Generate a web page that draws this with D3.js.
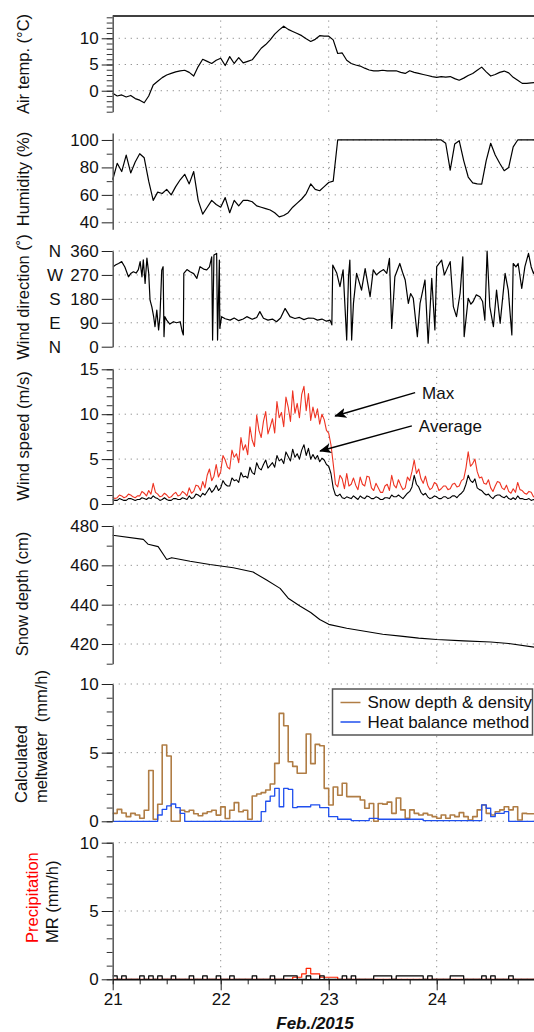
<!DOCTYPE html>
<html>
<head>
<meta charset="utf-8">
<style>
  body { margin: 0; background: #fff; }
  text { font-family: "Liberation Sans", Arial, Helvetica, sans-serif; fill: #111; }
</style>
</head>
<body>
<svg width="534" height="1032"></svg>
<script src="https://d3js.org/d3.v7.min.js"></script>
<script>

// ---- data (series start 21 Feb 2015 00:00) ----
var dayTicks = [21, 22, 23, 24];

// hourly
var airTemp = [-0.5,-1.0,-0.8,-1.2,-0.9,-1.5,-1.8,-2.3,-1.0,1.1, 1.8,2.5,3.0,3.3,3.6,3.8,3.9,3.5,2.8,4.6,
  6.0,5.6,5.2,5.8,6.2,4.8,6.5,5.2,6.3,5.3, 5.6,5.9,7.0,8.1,8.8,9.7,10.8,11.6,12.3,11.7,
  11.3,10.9,10.5,9.9,9.4,9.8,10.5,10.4,10.4,9.7, 7.1,7.2,5.8,5.2,4.9,4.7,4.3,3.95,3.8,3.8,
  3.9,3.8,3.8,3.8,3.5,3.3,3.8,3.5,3.3,3.1, 2.9,2.7,2.55,2.7,2.6,2.7,2.3,2.0,2.4,2.9,
  3.3,3.9,4.5,3.6,2.8,3.1,3.5,3.75,3.4,2.55, 2.0,1.4,1.4,1.5,1.6];

// hourly
var humidity = [71,83,77,89,76,84,90,87,70,56, 62,61,64,60,66,71,75,68,77,56,
  46,51,56,53,51,58,47,56,52,56, 56,55,52,51,50,49,47,44,45,47,
  51,54,57,61,68,64,63,66,69,70, 100,100,100,100,100,100,100,100,100,100,
  100,100,100,100,100,100,100,100,100,100, 100,100,100,100,97.6,78,97,99.5,85,73,
  68.8,68,67.8,85,97.6,89,83,77.6,80,95, 100,100,100,100,100];

// irregular samples (hours since start)
var dirHour = [0.1,0.7,1.3,2.0,2.7,3.5,4.0,4.6,5.2,5.7,6.1,6.5,6.8,7.2,7.6,8.0,8.3,8.7,9.1,9.4,
  9.8,10.2,10.5,10.9,11.2,11.4,11.6,12.0,12.7,13.5,14.2,15.0,15.4,15.7,15.8,16.5,17.2,18.0,18.7,19.4,
  20.2,20.9,21.5,22.0,22.2,22.5,23.1,23.3,23.7,23.8,24.2,25.0,26.1,27.0,28.0,29.0,29.8,31.0,32.0,32.7,
  33.5,34.5,35.5,36.4,37.3,38.3,39.4,40.5,41.5,42.5,43.5,44.6,45.5,46.5,47.5,48.3,48.7,48.9,49.8,50.5,
  51.2,52.0,52.4,52.7,53.1,53.5,54.2,55.3,56.1,57.2,57.9,58.6,59.4,60.2,60.9,61.5,62.0,62.7,63.8,64.4,
  65.0,65.7,66.2,66.8,67.7,68.3,69.4,70.1,70.9,71.6,72.0,73.1,73.7,74.2,75.0,75.7,76.4,77.2,77.8,78.1,
  79.0,79.6,80.1,80.8,81.6,82.2,82.7,83.2,83.8,84.6,85.3,86.1,87.2,87.9,88.7,89.0,89.6,90.1,90.9,91.6,
  92.4,93.0,93.5,94.0];
var dirDeg = [301,308,313,320,300,263,275,282,277,290,320,263,327,238,333,277,175,150,113,75,
  138,63,113,288,301,38,113,100,85,94,90,94,60,44,276,290,282,275,257,301,
  292,289,300,338,25,345,351,25,326,69,113,105,100,108,98,104,113,103,110,132,
  107,100,104,94,108,144,113,106,110,102,108,107,100,104,96,100,82,307,276,226,
  289,25,263,326,25,163,276,213,294,188,289,270,282,290,276,332,69,263,313,280,
  251,163,200,182,38,163,251,13,257,63,301,326,270,289,320,151,113,201,338,38,
  182,160,170,195,188,170,100,360,151,75,213,88,276,213,44,313,300,313,219,301,
  351,300,276,290];

// half-hourly
var windMax = [0.8,0.6, 0.7,1.0, 0.9,0.7, 0.8,1.1, 1.0,0.8, 0.7,0.9, 0.9,1.4, 1.2,0.9, 1.5,1.1, 2.3,1.3,
  1.1,0.8, 0.9,1.2, 1.0,0.7, 0.8,1.1, 1.3,0.9, 1.0,1.4, 1.2,0.9, 1.8,1.2, 1.4,2.1, 2.0,1.5,
  2.5,1.8, 3.2,3.9, 2.6,3.1, 4.4,3.0, 3.6,5.4, 4.9,4.1, 3.9,6.0, 5.2,5.6, 4.6,7.4, 6.0,6.6,
  5.5,8.6, 7.1,6.4, 9.9,8.2, 7.4,9.2, 10.3,7.8, 8.6,9.5, 7.9,11.4, 9.6,10.2, 8.6,11.9, 10.8,9.2,
  12.6,10.1, 11.2,9.6, 12.2,13.1, 10.4,12.3, 9.3,10.8, 9.6,10.6, 8.9,10.0, 9.4,8.2, 7.9,6.6, 4.5,2.2,
  1.9,3.2, 2.8,1.7, 3.4,2.0, 2.2,2.9, 2.1,1.6, 3.0,2.2, 2.0,3.1, 3.0,1.8, 1.5,2.3, 1.8,1.3,
  1.3,2.0, 2.2,1.5, 3.2,2.1, 1.8,2.7, 2.1,1.6, 1.8,3.0, 2.6,3.6, 4.9,3.4, 3.9,2.8, 2.3,3.1,
  2.1,1.6, 1.8,2.4, 2.2,1.5, 1.7,2.0, 2.0,1.6, 1.7,2.2, 2.3,1.9, 2.0,2.6, 2.8,4.0, 5.8,4.2,
  4.5,5.0, 3.6,2.9, 3.0,2.3, 2.2,2.7, 1.8,1.4, 2.0,2.5, 2.4,1.8, 1.6,2.1, 1.4,1.2, 1.7,1.3,
  2.4,1.6, 1.5,1.2, 1.1,1.4, 1.3,0.8, 0.9];
var windAvg = [0.5,0.4, 0.4,0.6, 0.5,0.4, 0.4,0.6, 0.6,0.5, 0.4,0.5, 0.5,0.7, 0.6,0.5, 0.7,0.6, 0.9,0.7,
  0.6,0.4, 0.5,0.7, 0.5,0.4, 0.4,0.6, 0.6,0.5, 0.5,0.7, 0.6,0.5, 0.9,0.6, 0.7,1.1, 1.0,0.8,
  1.2,1.0, 1.4,1.8, 1.3,1.6, 2.1,1.5, 1.8,2.6, 2.2,2.0, 2.0,2.9, 2.6,2.7, 2.4,3.5, 3.0,3.1,
  2.9,4.1, 3.5,3.3, 4.6,4.0, 3.8,4.4, 4.9,4.0, 4.3,4.6, 4.1,5.4, 4.8,5.0, 4.5,5.8, 5.3,4.8,
  6.1,5.2, 5.6,5.0, 6.0,6.6, 5.4,6.2, 5.0,5.5, 5.0,5.4, 4.7,5.1, 4.9,4.4, 4.2,3.4, 1.8,1.0,
  0.9,1.1, 0.7,0.6, 0.8,0.7, 0.6,0.9, 0.7,0.5, 0.9,0.7, 0.6,0.9, 0.8,0.6, 0.6,0.8, 0.7,0.5,
  0.5,0.7, 0.7,0.6, 1.0,0.8, 0.8,1.0, 0.8,0.6, 0.9,1.2, 1.4,1.9, 3.2,2.2, 1.9,1.3, 1.0,1.2,
  0.8,0.6, 0.7,0.9, 0.8,0.6, 0.6,0.8, 0.8,0.6, 0.7,0.9, 0.9,0.7, 1.0,1.2, 1.5,2.2, 3.2,2.6,
  2.4,2.8, 1.8,1.6, 1.5,1.2, 1.0,1.1, 0.8,0.6, 0.9,1.0, 1.0,0.8, 0.7,0.9, 0.6,0.5, 0.7,0.5,
  0.9,0.6, 0.6,0.5, 0.5,0.6, 0.4,0.5, 0.4];

var snowHour = [0,6.8,7.9,10.1,12,13.1,17.2,21.6,26.8,31.2,34.2,37.2,39,41.6,44,46,48,52,56,60,64,68,72,78,84,88,94];
var snowDepth = [475.3,473.2,470.7,469.5,463,463.9,462.1,460.4,458.8,456.6,452.5,448.3,443.3,439.3,436,432.5,430,428,426.5,425,424,423,422.3,421.6,421,420.3,418.3];

// hourly steps
var meltDepth = [0.58,0.87,0.6,0.34,0.58,0.46,0.22,0.8,3.7,0.15, 1.24,5.56,4.76,0,0,0.8,0.7,0.8,0.55,0.4,
  0.58,0.7,0.8,0.45,1.05,0.2,0.8,1.36,0.7,0.8, 0.15,1.84,1.99,2.09,2.28,2.72,4.22,7.86,6.96,4.34,
  4.0,3.5,3.5,6.36,4.2,5.6,5.5,2.4,1.19,2.5, 1.9,2.77,1.8,1.8,1.8,1.55,0.95,1.3,0,1.3,
  1.25,1.4,0.58,1.7,0.83,0.22,0.83,0.58,0.46,0.58, 0.46,0.34,0.22,0.46,0.22,0.46,0.34,0.63,0.34,0.09,
  0.34,0.83,1.19,0.58,0.46,0.7,0.83,1.06,0.83,1.06, 0.09,0.58,0.55,0.55];
var meltHeat = [0,0,0,0,0,0,0,0,0,0, 0.46,0.87,1.12,1.26,1.0,0.58,0,0,0,0,
  0,0,0,0,0,0,0,0,0,0, 0,0,0,0.7,1.46,1.84,2.4,1.06,2.4,2.33,
  1.0,1.06,1.06,1.06,1.19,1.19,1.0,1.0,0.34,0.34, 0.15,0.15,0.15,0.05,0.05,0.05,0.05,0.22,0.22,0.15,
  0.15,0.15,0.15,0.15,0.15,0.15,0.15,0.15,0.15,0.05, 0.05,0.05,0.05,0.05,0.05,0.05,0.05,0.05,0.05,0.05,
  0.05,0.05,1.19,0.95,0.34,0.58,0.58,0.7,0,0, 0,0,0,0];

var precipMR = [0.25,0,0.25,0,0,0,0.25,0,0.25,0, 0.25,0,0,0.25,0,0,0,0.25,0,0,
  0.25,0,0,0.25,0,0,0.25,0,0,0, 0,0.25,0,0,0,0.25,0,0,0.25,0.25,
  0.25,0,0,0.25,0,0,0.25,0,0,0, 0,0.25,0,0.25,0,0,0,0,0.25,0.25,
  0.25,0.25,0,0.25,0.25,0.25,0.25,0.25,0.25,0, 0.25,0,0,0,0,0.25,0.25,0.25,0,0,
  0,0,0.25,0,0.25,0,0,0,0.25,0, 0,0,0,0];
var precipRain = [0,0,0,0,0,0,0,0,0,0, 0,0,0,0,0,0,0,0,0,0,
  0,0,0,0,0,0,0,0,0,0, 0,0,0,0,0,0,0,0,0,0,
  0.15,0.15,0.4,0.8,0.4,0.4,0.15,0.15,0.15,0.15, 0,0,0,0,0,0,0,0,0,0,
  0,0,0,0,0,0,0,0,0,0, 0,0,0,0,0,0,0,0,0,0,
  0,0,0,0,0,0,0,0,0,0, 0,0,0,0];

// ---- layout ----
var svg = d3.select("svg");
var FONT = '"Liberation Sans", Arial, Helvetica, sans-serif';
var x0 = 112.7;
var x = d3.scaleLinear().domain([21, 25]).range([x0, 544.7]);
var toDay = function(h) { return 21 + h / 24; };

var hourly = function(arr) { return arr.map(function(v, i) { return [toDay(i), v]; }); };
var halfHourly = function(arr) { return arr.map(function(v, i) { return [toDay(i / 2), v]; }); };
var stepped = function(arr) {
  var pts = hourly(arr);
  pts.push([toDay(arr.length), arr[arr.length - 1]]);
  return pts;
};

var panels = {
  temp:   { domain: [-4, 14.25], range: [111.7, 16],  major: [0, 5, 10],            minor: d3.range(-4, 15, 1) },
  hum:    { domain: [35, 105],   range: [229.2, 133.1], major: [40, 60, 80, 100],    minor: [50, 70, 90] },
  dir:    { domain: [0, 360],    range: [346.7, 251],  major: [0, 90, 180, 270, 360], minor: [] },
  speed:  { domain: [0, 15],     range: [504, 369.3],  major: [0, 5, 10, 15],        minor: d3.range(0, 16, 1) },
  snow:   { domain: [410, 480],  range: [663.7, 526],  major: [420, 440, 460, 480],  minor: [410, 430, 450, 470] },
  melt:   { domain: [0, 10],     range: [821.3, 684],  major: [0, 5, 10],            minor: d3.range(0, 11, 1) },
  precip: { domain: [0, 10],     range: [979.3, 842.7], major: [0, 5, 10],           minor: d3.range(0, 11, 1) }
};

Object.keys(panels).forEach(function(k) {
  var p = panels[k];
  p.y = d3.scaleLinear().domain(p.domain).range(p.range);
  p.g = svg.append("g");
  p.grid = p.g.append("g");
  p.data = p.g.append("g");
  p.axis = p.g.append("g");

  p.grid.selectAll(".h").data(p.major).enter().append("line")
    .attr("x1", x(21)).attr("x2", x(25))
    .attr("y1", function(d) { return p.y(d); }).attr("y2", function(d) { return p.y(d); })
    .attr("stroke", "#8a8a8a").attr("stroke-width", 1).attr("stroke-dasharray", "1.2,4.8");
  p.grid.selectAll(".v").data([22, 23, 24]).enter().append("line")
    .attr("x1", function(d) { return x(d); }).attr("x2", function(d) { return x(d); })
    .attr("y1", p.range[0]).attr("y2", p.range[1])
    .attr("stroke", "#8a8a8a").attr("stroke-width", 1).attr("stroke-dasharray", "1.2,4.8");
});

function drawLine(p, pts, color, width, curve) {
  var line = d3.line()
    .x(function(d) { return x(d[0]); })
    .y(function(d) { return p.y(d[1]); });
  if (curve) line.curve(curve);
  p.data.append("path")
    .datum(pts)
    .attr("fill", "none")
    .attr("stroke", color)
    .attr("stroke-width", width)
    .attr("stroke-linejoin", "round")
    .attr("d", line);
}

// air temperature
drawLine(panels.temp, hourly(airTemp), "#000", 1.2);
panels.temp.data.append("line")
  .attr("x1", x(21)).attr("x2", x(25))
  .attr("y1", panels.temp.y(14.25)).attr("y2", panels.temp.y(14.25))
  .attr("stroke", "#000").attr("stroke-width", 1.5);

// humidity
drawLine(panels.hum, hourly(humidity), "#000", 1.2);

// wind direction
drawLine(panels.dir, dirHour.map(function(h, i) { return [toDay(h), dirDeg[i]]; }), "#000", 1.2);

// wind speed
drawLine(panels.speed, halfHourly(windMax), "#ee3322", 1.1);
drawLine(panels.speed, halfHourly(windAvg), "#000", 1.1);

// snow depth
drawLine(panels.snow, snowHour.map(function(h, i) { return [toDay(h), snowDepth[i]]; }), "#000", 1.1);

// meltwater
drawLine(panels.melt, stepped(meltDepth), "#b07d45", 1.6, d3.curveStepAfter);
drawLine(panels.melt, stepped(meltHeat), "#1f4fee", 1.3, d3.curveStepAfter);

// precipitation
drawLine(panels.precip, stepped(precipRain), "#ff2200", 1.2, d3.curveStepAfter);
drawLine(panels.precip, stepped(precipMR), "#000", 1.2, d3.curveStepAfter);

// ---- axes ----
Object.keys(panels).forEach(function(k) {
  var p = panels[k];
  if (p.minor.length) {
    var mi = p.axis.append("g").attr("transform", "translate(" + x0 + ",0)")
      .call(d3.axisLeft(p.y).tickValues(p.minor).tickSize(6).tickSizeOuter(0).tickFormat(""));
    mi.select(".domain").remove();
    mi.selectAll("line").attr("stroke", "#333");
  }
  var ma = p.axis.append("g").attr("transform", "translate(" + x0 + ",0)")
    .call(d3.axisLeft(p.y).tickValues(p.major).tickSize(11).tickPadding(3).tickSizeOuter(0));
  ma.select(".domain").attr("stroke", "#555").attr("stroke-width", 1.5);
  ma.selectAll("line").attr("stroke", "#222");
  ma.selectAll("text").attr("font-size", 17).attr("font-family", FONT).attr("fill", "#111");
});

// compass letters for wind direction
var compass = ["N", "E", "S", "W", "N"];
panels.dir.axis.selectAll(".compass").data(panels.dir.major).enter().append("text")
  .attr("x", 55)
  .attr("y", function(d) { return panels.dir.y(d); })
  .attr("dy", "0.35em")
  .attr("text-anchor", "middle")
  .attr("font-size", 17)
  .text(function(d, i) { return compass[i]; });

// x axis at bottom
var xa = svg.append("g").attr("transform", "translate(0," + panels.precip.range[0] + ")");
var xminor = xa.append("g")
  .call(d3.axisBottom(x).tickValues(d3.range(21, 25.01, 0.25)).tickSize(5).tickSizeOuter(0).tickFormat(""));
xminor.select(".domain").remove();
xminor.selectAll("line").attr("stroke", "#222");
var xmajor = xa.append("g")
  .call(d3.axisBottom(x).tickValues(dayTicks).tickSize(11).tickPadding(3).tickSizeOuter(0).tickFormat(d3.format("d")));
xmajor.select(".domain").attr("stroke", "#111").attr("stroke-width", 1.5);
xmajor.selectAll("line").attr("stroke", "#222");
xmajor.selectAll("text").attr("font-size", 17).attr("font-family", FONT).attr("fill", "#111");

svg.append("text")
  .attr("x", 315).attr("y", 1029)
  .attr("text-anchor", "middle")
  .attr("font-size", 17).attr("font-weight", "bold").attr("font-style", "italic")
  .text("Feb./2015");

// ---- axis titles ----
function vText(xb, yc, str, anchor, color) {
  svg.append("text")
    .attr("transform", "translate(" + xb + "," + yc + ") rotate(-90)")
    .attr("text-anchor", anchor)
    .attr("font-size", 16.5)
    .style("white-space", "pre")
    .style("fill", color || "#111")
    .text(str);
}
vText(29, 64, "Air temp. (\u00b0C)", "middle");
vText(29, 179, "Humidity (%)", "middle");
vText(29, 297, "Wind direction (\u02da)", "middle");
vText(29, 436, "Wind speed (m/s)", "middle");
vText(28, 594, "Snow depth (cm)", "middle");
vText(27, 803, "Calculated", "start");
vText(47, 803, "meltwater  (mm/h)", "start");
vText(38, 943, "Precipitation", "start", "#ff0000");
vText(58, 943, "MR (mm/h)", "start");

// ---- wind speed annotations ----
var defs = svg.append("defs");
defs.append("marker")
  .attr("id", "arrow")
  .attr("viewBox", "0 0 12 10")
  .attr("refX", 11).attr("refY", 5)
  .attr("markerWidth", 12).attr("markerHeight", 10)
  .attr("markerUnits", "userSpaceOnUse")
  .attr("orient", "auto")
  .append("path")
  .attr("d", "M0,0 L12,5 L0,10 L3,5 Z")
  .attr("fill", "#000");

var notes = [
  { label: "Max",     from: [23.80, 12.4], to: [23.06, 9.8] },
  { label: "Average", from: [23.77, 8.7],  to: [22.92, 5.9] }
];
var sp = panels.speed;
notes.forEach(function(n) {
  sp.axis.append("line")
    .attr("x1", x(n.from[0])).attr("y1", sp.y(n.from[1]))
    .attr("x2", x(n.to[0])).attr("y2", sp.y(n.to[1]))
    .attr("stroke", "#000").attr("stroke-width", 1.5)
    .attr("marker-end", "url(#arrow)");
  sp.axis.append("text")
    .attr("x", x(n.from[0]) + 7).attr("y", sp.y(n.from[1]))
    .attr("dy", "0.35em")
    .attr("font-size", 17)
    .text(n.label);
});

// ---- meltwater legend ----
var legendItems = [
  ["Snow depth & density", "#b07d45"],
  ["Heat balance method", "#1f4fee"]
];
var legend = panels.melt.axis.append("g").attr("transform", "translate(332.5,689)");
legend.append("rect")
  .attr("width", 200).attr("height", 46)
  .attr("fill", "#fff").attr("stroke", "#555").attr("stroke-width", 1.5);
legendItems.forEach(function(d, i) {
  legend.append("line")
    .attr("x1", 8).attr("x2", 28)
    .attr("y1", 13.5 + i * 19.5).attr("y2", 13.5 + i * 19.5)
    .attr("stroke", d[1]).attr("stroke-width", 1.5);
  legend.append("text")
    .attr("x", 35).attr("y", 13.5 + i * 19.5)
    .attr("dy", "0.35em")
    .attr("font-size", 17)
    .text(d[0]);
});

</script>
</body>
</html>
